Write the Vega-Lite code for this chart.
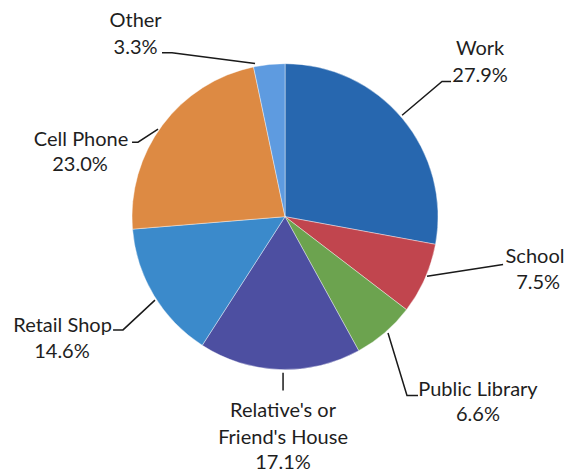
{
  "$schema": "https://vega.github.io/schema/vega-lite/v6.json",
  "width": 569,
  "height": 474,
  "padding": 0,
  "autosize": {"type": "fit", "contains": "padding"},
  "background": "white",
  "config": {"view": {"stroke": null}},
  "datasets": {
    "slices": [
      {"cat": "Work", "pct": 27.9, "idx": 1},
      {"cat": "School", "pct": 7.5, "idx": 2},
      {"cat": "Public Library", "pct": 6.6, "idx": 3},
      {"cat": "Relative's or Friend's House", "pct": 17.1, "idx": 4},
      {"cat": "Retail Shop", "pct": 14.6, "idx": 5},
      {"cat": "Cell Phone", "pct": 23.0, "idx": 6},
      {"cat": "Other", "pct": 3.3, "idx": 7}
    ],
    "labels": [
      {"t": "Other", "x": -0.977, "y": 1.288},
      {"t": "3.3%", "x": -0.977, "y": 1.111},
      {"t": "Work", "x": 1.275, "y": 1.105},
      {"t": "27.9%", "x": 1.275, "y": 0.928},
      {"t": "School", "x": 1.634, "y": -0.268},
      {"t": "7.5%", "x": 1.654, "y": -0.438},
      {"t": "Public Library", "x": 1.261, "y": -1.137},
      {"t": "6.6%", "x": 1.261, "y": -1.307},
      {"t": "Relative's or", "x": -0.013, "y": -1.281},
      {"t": "Friend's House", "x": -0.013, "y": -1.458},
      {"t": "17.1%", "x": -0.013, "y": -1.621},
      {"t": "Retail Shop", "x": -1.454, "y": -0.719},
      {"t": "14.6%", "x": -1.458, "y": -0.889},
      {"t": "Cell Phone", "x": -1.333, "y": 0.503},
      {"t": "23.0%", "x": -1.34, "y": 0.34}
    ],
    "leaders": [
      {"g": "Other", "o": 1, "x": -0.804, "y": 1.078},
      {"g": "Other", "o": 2, "x": -0.739, "y": 1.078},
      {"g": "Other", "o": 3, "x": -0.196, "y": 1.007},
      {"g": "Work", "o": 1, "x": 1.085, "y": 0.889},
      {"g": "Work", "o": 2, "x": 1.026, "y": 0.889},
      {"g": "Work", "o": 3, "x": 0.765, "y": 0.667},
      {"g": "School", "o": 1, "x": 0.928, "y": -0.392},
      {"g": "School", "o": 2, "x": 1.425, "y": -0.314},
      {"g": "Library", "o": 1, "x": 0.673, "y": -0.765},
      {"g": "Library", "o": 2, "x": 0.797, "y": -1.176},
      {"g": "Library", "o": 3, "x": 0.869, "y": -1.176},
      {"g": "Relative", "o": 1, "x": -0.013, "y": -1.026},
      {"g": "Relative", "o": 2, "x": -0.013, "y": -1.144},
      {"g": "Retail", "o": 1, "x": -1.124, "y": -0.745},
      {"g": "Retail", "o": 2, "x": -1.059, "y": -0.745},
      {"g": "Retail", "o": 3, "x": -0.85, "y": -0.549},
      {"g": "Cell", "o": 1, "x": -1.0, "y": 0.49},
      {"g": "Cell", "o": 2, "x": -0.961, "y": 0.49},
      {"g": "Cell", "o": 3, "x": -0.83, "y": 0.575}
    ]
  },
  "layer": [
    {
      "data": {"name": "slices"},
      "mark": {"type": "arc", "outerRadius": 153, "stroke": "#ffffff", "strokeWidth": 0.4},
      "encoding": {
        "x": {"datum": 0, "type": "quantitative", "scale": {"domain": [-1.863, 1.856], "nice": false, "zero": false}, "axis": null},
        "y": {"datum": 0, "type": "quantitative", "scale": {"domain": [-1.673, 1.425], "nice": false, "zero": false}, "axis": null},
        "theta": {"field": "pct", "type": "quantitative", "stack": true},
        "order": {"field": "idx", "type": "quantitative"},
        "color": {
          "field": "cat", "type": "nominal", "legend": null,
          "scale": {
            "domain": ["Work", "School", "Public Library", "Relative's or Friend's House", "Retail Shop", "Cell Phone", "Other"],
            "range": ["#2767AF", "#C1454E", "#6CA34F", "#4D4FA1", "#3B8ACB", "#DD8A43", "#5E9BE0"]
          }
        }
      }
    },
    {
      "data": {"name": "leaders"},
      "mark": {"type": "line", "color": "#1a1a1a", "strokeWidth": 1.5},
      "encoding": {
        "x": {"field": "x", "type": "quantitative", "axis": null},
        "y": {"field": "y", "type": "quantitative", "axis": null},
        "detail": {"field": "g"},
        "order": {"field": "o", "type": "quantitative"}
      }
    },
    {
      "data": {"name": "labels"},
      "mark": {"type": "text", "font": "Lato", "fontSize": 20, "color": "#1e1e1e", "align": "center", "baseline": "middle"},
      "encoding": {
        "x": {"field": "x", "type": "quantitative", "axis": null},
        "y": {"field": "y", "type": "quantitative", "axis": null},
        "text": {"field": "t"}
      }
    }
  ]
}
